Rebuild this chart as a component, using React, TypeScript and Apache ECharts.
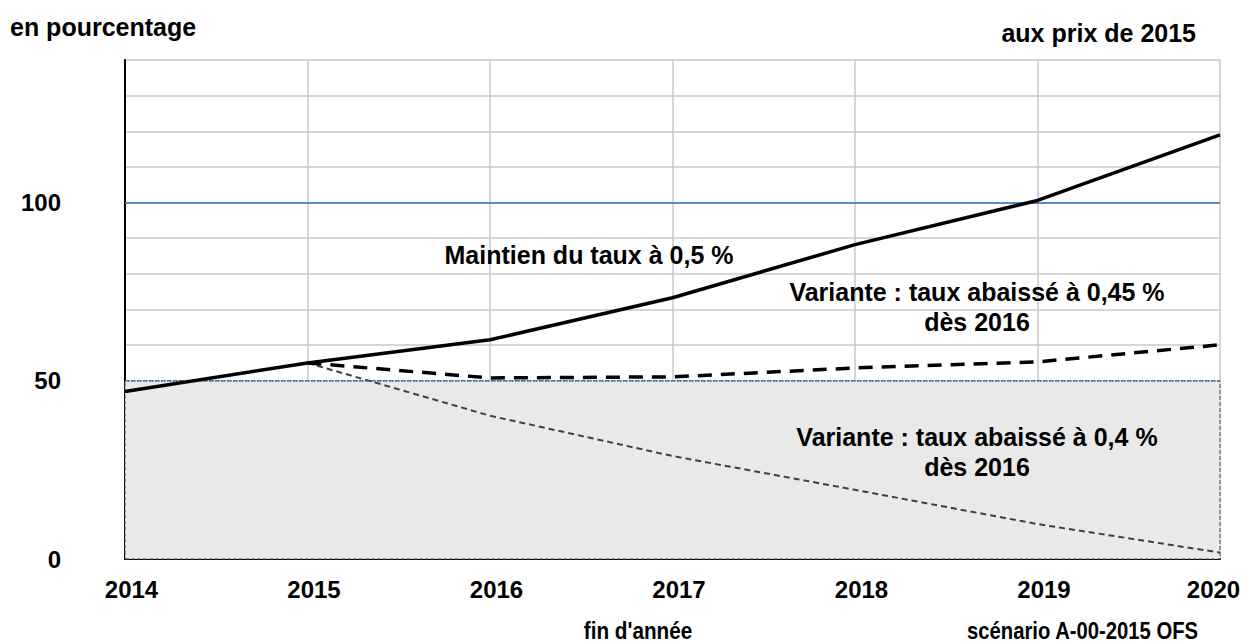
import React, { useEffect, useRef } from "react";
import * as echarts from "echarts";

const years = ["2014", "2015", "2016", "2017", "2018", "2019", "2020"];
const maintien = [47, 55, 61.5, 73.3, 88.2, 100.6, 119];
const variante045 = [null, 55, 50.8, 51.1, 53.6, 55.3, 60.1];
const variante04 = [null, 55, 40.2, 28.9, 19.4, 9.8, 1.8];
const yLabels = [0, 50, 100];

const FONT = "Liberation Sans, Arial, sans-serif";

const txt = (text: string, size: number, extra: any = {}) => ({
  text,
  fontSize: size,
  fontWeight: "bold",
  fontFamily: FONT,
  fill: "#000",
  ...extra,
});

const labelStyle = { color: "#000", fontWeight: "bold", fontSize: 24, fontFamily: FONT };

export default function App() {
  const ref = useRef<HTMLDivElement>(null);
  useEffect(() => {
    const chart = echarts.init(ref.current!, undefined, { renderer: "svg" });
    chart.setOption({
      animation: false,
      grid: { left: 125, right: 37, top: 60, bottom: 85 },
      xAxis: {
        type: "category",
        data: years,
        boundaryGap: false,
        axisLine: { show: true, lineStyle: { color: "#000", width: 2 } },
        axisTick: { show: false },
        axisLabel: {
          ...labelStyle,
          margin: 18,
          formatter: (v: string, i: number) => (i === years.length - 1 ? `{r|${v}}` : `{l|${v}}`),
          rich: {
            l: { ...labelStyle, padding: [0, 0, 0, 13] },
            r: { ...labelStyle, padding: [0, 13, 0, 0] },
          },
        },
        splitLine: { show: true, lineStyle: { color: "#c8c8c8", width: 1.5 } },
      },
      yAxis: {
        type: "value",
        min: 0,
        max: 140,
        interval: 10,
        axisLine: { show: true, lineStyle: { color: "#000", width: 2 } },
        axisTick: { show: false },
        axisLabel: {
          ...labelStyle,
          margin: 64,
          align: "right",
          formatter: (v: number) => (yLabels.includes(v) ? String(v) : ""),
        },
        splitLine: { show: true, lineStyle: { color: "#c8c8c8", width: 1.5 } },
      },
      series: [
        {
          type: "line",
          data: [],
          silent: true,
          markArea: {
            silent: true,
            itemStyle: { color: "#e9e9e9", borderColor: "#444", borderWidth: 1, borderType: "dashed" },
            data: [[{ yAxis: 0, xAxis: "2014" }, { yAxis: 50, xAxis: "2020" }]],
          },
          markLine: {
            silent: true,
            symbol: "none",
            label: { show: false },
            data: [
              { yAxis: 100, lineStyle: { color: "#2e75b6", width: 1.5, type: "solid" } },
              { yAxis: 50, lineStyle: { color: "#2e75b6", width: 1.5, type: "dotted" } },
            ],
          },
        },
        {
          name: "0.4",
          type: "line",
          data: variante04,
          symbol: "none",
          lineStyle: { color: "#404040", width: 2, type: [6, 4] },
          z: 3,
        },
        {
          name: "0.45",
          type: "line",
          data: variante045,
          symbol: "none",
          lineStyle: { color: "#000", width: 3.5, type: [14, 9] },
          z: 4,
        },
        {
          name: "0.5",
          type: "line",
          data: maintien,
          symbol: "none",
          lineStyle: { color: "#000", width: 3.5 },
          z: 5,
        },
      ],
      graphic: [
        { type: "text", z: 100, x: 10, y: 27, style: txt("en pourcentage", 25, { align: "left", verticalAlign: "middle" }) },
        { type: "text", z: 100, x: 1196, y: 33, style: txt("aux prix de 2015", 25, { align: "right", verticalAlign: "middle" }) },
        { type: "text", z: 100, x: 589, y: 255, style: txt("Maintien du taux à 0,5 %", 25, { align: "center", verticalAlign: "middle" }) },
        { type: "text", z: 100, x: 977, y: 307, style: txt("Variante : taux abaissé à 0,45 %\ndès 2016", 25, { align: "center", verticalAlign: "middle", lineHeight: 30 }) },
        { type: "text", z: 100, x: 977, y: 452, style: txt("Variante : taux abaissé à 0,4 %\ndès 2016", 25, { align: "center", verticalAlign: "middle", lineHeight: 30 }) },
        { type: "text", z: 100, x: 638, y: 631, scaleX: 0.9, style: txt("fin d'année", 23, { align: "center", verticalAlign: "middle" }) },
        { type: "text", z: 100, x: 1198, y: 631, scaleX: 0.88, style: txt("scénario A-00-2015 OFS", 23, { align: "right", verticalAlign: "middle" }) },
      ],
    });
    return () => chart.dispose();
  }, []);
  return <div ref={ref} style={{ width: 1257, height: 644, position: "absolute", left: 0, top: 0 }} />;
}
